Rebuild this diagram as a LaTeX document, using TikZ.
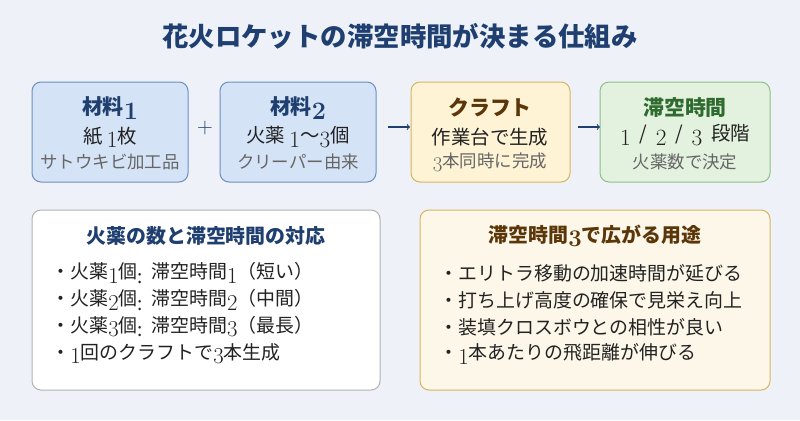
\documentclass[tikz,border=0pt]{standalone}
\usepackage{fontspec}
\usepackage{graphicx}
\newfontfamily\jp{Noto Sans CJK JP}
\newcommand{\dg}[1]{\raisebox{-0.4ex}{\normalfont\scalebox{1.2}{#1}}}
\newcommand{\dgb}[1]{\raisebox{-0.4ex}{\normalfont\bfseries\scalebox{1.2}{#1}}}
\definecolor{bg}{HTML}{EEF2F8}
\definecolor{navy}{HTML}{1F3F70}
\definecolor{bfill}{HTML}{D5E3F6}\definecolor{bdraw}{HTML}{6E8EC2}
\definecolor{yfill}{HTML}{FFF3D6}\definecolor{ydraw}{HTML}{D8B45E}
\definecolor{gfill}{HTML}{E3F2DE}\definecolor{gdraw}{HTML}{8FBF88}
\definecolor{brown}{HTML}{5A3608}\definecolor{dgreen}{HTML}{2E6B2E}
\definecolor{txt}{HTML}{222222}\definecolor{sub}{HTML}{666666}
\definecolor{cfill}{HTML}{FDF7E9}
\tikzset{box/.style={rounded corners=9bp,line width=1bp},
 t/.style={font=\jp\fontsize{21}{24}\selectfont\bfseries,anchor=center},
 m/.style={font=\jp\fontsize{19.5}{22}\selectfont,text=txt,anchor=center},
 s/.style={font=\jp\fontsize{17.5}{20}\selectfont,text=sub,anchor=center},
 li/.style={font=\jp\fontsize{19}{22}\selectfont,text=txt,anchor=west},
 arr/.style={->,line width=1.1bp,draw=navy}}
\begin{document}
\begin{tikzpicture}[x=1bp,y=-1bp]
\fill[bg] (0,0) rectangle (800,420);
\useasboundingbox (0,0) rectangle (800,420);
\node[font=\jp\fontsize{26.5}{30}\selectfont\bfseries,text=navy] (title) at (400,36) {花火ロケットの滞空時間が決まる仕組み};
% top boxes
\draw[box,fill=bfill,draw=bdraw] (32,82) rectangle (188,182);
\node[t,text=navy] (a1) at (110,108) {材料\dgb{1}};
\node[m] (a2) at (110,137) {紙\ \dg{1}枚};
\node[s] (a3) at (110,162) {サトウキビ加工品};
\draw[box,fill=bfill,draw=bdraw] (220,82) rectangle (376,182);
\node[t,text=navy] (b1) at (298,108) {材料\dgb{2}};
\node[m] (b2) at (298,137) {火薬\ \dg{1}〜\dg{3}個};
\node[s] (b3) at (298,162) {クリーパー由来};
\draw[box,fill=yfill,draw=ydraw] (411,82) rectangle (570,182);
\node[t,text=brown] (c1) at (490,108) {クラフト};
\node[m] (c2) at (490,137) {作業台で生成};
\node[s] (c3) at (490,162) {\dg{3}本同時に完成};
\draw[box,fill=gfill,draw=gdraw] (600,82) rectangle (770,182);
\node[t,text=dgreen] (d1) at (685,108) {滞空時間};
\node[m] (d2) at (685,135) {\dg{1}\ \ /\ \ \dg{2}\ \ /\ \ \dg{3}\ \ 段階};
\node[s] (d3) at (685,162) {火薬数で決定};
\node[font=\fontsize{22}{24}\selectfont,text=navy] (plus) at (205,128) {+};
\coordinate (p1) at (388,127);\coordinate (p2) at (410,127);
\draw[arr] (p1) -- (p2);
\coordinate (q1) at (578,127);\coordinate (q2) at (600,127);
\draw[arr] (q1) -- (q2);
% bottom boxes
\draw[box,fill=white,draw=black!30] (32,210) rectangle (380,390);
\node[font=\jp\fontsize{20}{24}\selectfont\bfseries,text=navy] (lt) at (206,236) {火薬の数と滞空時間の対応};
\node[li] (l1) at (48,273) {・火薬\dg{1}個\raisebox{-0.4ex}{:}\ \ 滞空時間\dg{1}（短い）};
\node[li] (l2) at (48,300) {・火薬\dg{2}個\raisebox{-0.4ex}{:}\ \ 滞空時間\dg{2}（中間）};
\node[li] (l3) at (48,327) {・火薬\dg{3}個\raisebox{-0.4ex}{:}\ \ 滞空時間\dg{3}（最長）};
\node[li] (l4) at (48,354) {・\dg{1}回のクラフトで\dg{3}本生成};
\draw[box,fill=cfill,draw=ydraw] (420,210) rectangle (770,390);
\node[font=\jp\fontsize{20}{24}\selectfont\bfseries,text=brown] (rt) at (595,236) {滞空時間\dgb{3}で広がる用途};
\node[li] (r1) at (436,273) {・エリトラ移動の加速時間が延びる};
\node[li] (r2) at (436,300) {・打ち上げ高度の確保で見栄え向上};
\node[li] (r3) at (436,327) {・装填クロスボウとの相性が良い};
\node[li] (r4) at (436,354) {・\dg{1}本あたりの飛距離が伸びる};
\end{tikzpicture}
\end{document}
